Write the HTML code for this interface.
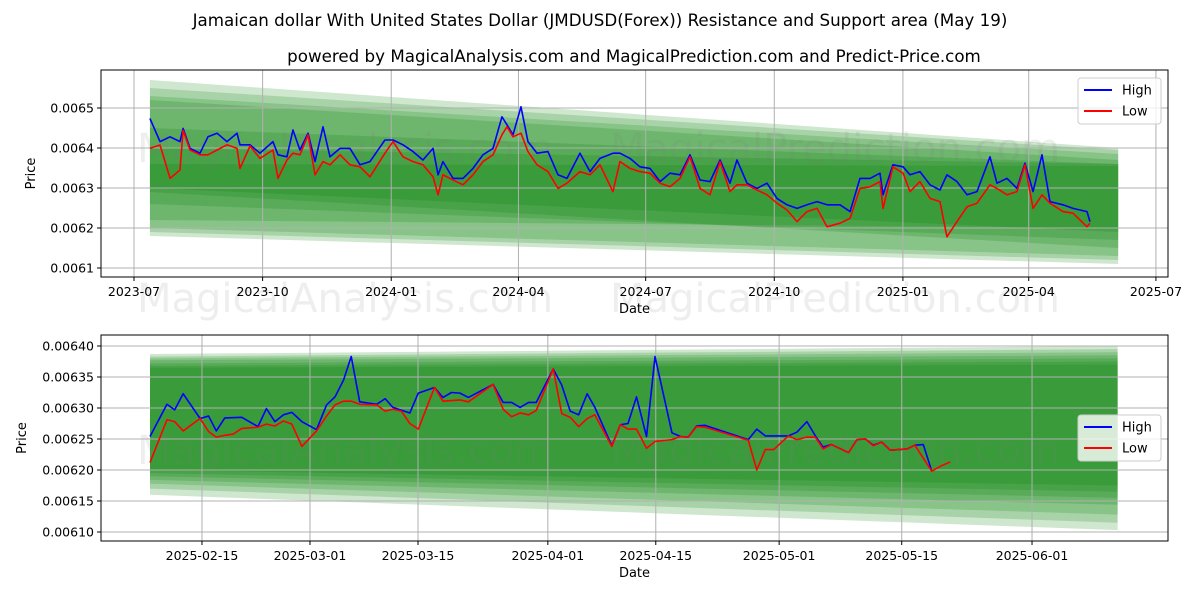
<!DOCTYPE html>
<html><head><meta charset="utf-8"><style>
body{margin:0;background:#fff;font-family:"Liberation Sans","DejaVu Sans",sans-serif}
svg text{font-family:"DejaVu Sans","Liberation Sans",sans-serif}
</style></head><body>
<svg id="c" width="1200" height="600" xmlns="http://www.w3.org/2000/svg">
<text x="600" y="26" font-size="16.7" text-anchor="middle">Jamaican dollar With United States Dollar (JMDUSD(Forex)) Resistance and Support area (May 19)</text>
<text x="634" y="62" font-size="16.7" text-anchor="middle">powered by MagicalAnalysis.com and MagicalPrediction.com and Predict-Price.com</text>
</svg>
<script>
// ---- top chart data (days since 2023-07-01, prices in 1e-5 USD)
const topDays=[11.4,18.6,25.8,32.9,35.1,40.1,47.2,52.9,59.4,66.5,73.7,75.8,83.0,90.1,99.4,103.0,109.4,113.7,118.7,124.5,129.5,135.2,140.2,147.4,154.5,161.7,168.8,179.5,185.3,192.4,199.6,206.7,213.9,217.5,221.0,228.2,235.3,242.5,249.6,256.8,263.2,266.8,271.1,276.8,281.8,288.3,296.1,303.3,309.7,319.0,326.2,333.3,342.6,347.6,354.8,361.9,369.1,376.3,383.4,390.6,397.7,404.9,412.0,419.2,426.3,431.3,438.5,445.6,452.8,459.9,467.1,474.3,481.4,488.6,495.7,505.0,512.2,519.3,526.5,533.6,535.8,542.9,550.1,555.1,562.2,569.4,576.5,581.5,588.7,595.9,603.0,612.3,617.3,624.5,631.6,637.3,643.1,649.5,655.2,664.5,671.7,681.7,683.8];
const topHigh=[647.4,641.6,642.8,641.6,644.9,639.9,638.7,642.8,643.7,641.6,643.7,640.8,640.8,638.7,641.6,638.3,637.8,644.5,639.5,643.7,636.6,645.3,637.8,639.9,639.9,635.8,636.6,642.0,642.0,640.8,639.1,637.0,639.9,633.3,636.6,632.4,632.4,634.9,638.3,639.9,647.8,645.8,643.3,650.3,641.6,638.7,639.1,633.3,632.4,638.7,634.1,637.4,638.7,638.7,637.4,635.3,634.9,631.6,633.7,633.3,638.3,632.0,631.6,637.0,631.2,637.0,631.2,629.9,631.2,627.4,625.8,624.9,625.8,626.6,625.8,625.8,624.1,632.4,632.4,633.7,628.3,635.8,635.3,633.3,634.1,630.8,629.5,633.3,631.6,628.3,629.1,637.8,631.2,632.4,629.9,636.2,629.1,638.3,626.6,625.8,624.9,624.1,621.6];
const topLow=[639.9,640.75,632.4,634.5,644.4,639.5,638.3,638.3,639.5,640.8,639.9,634.9,640.5,637.4,639.5,632.4,637.0,638.7,638.3,643.3,633.3,636.6,635.8,638.3,635.8,635.3,632.8,638.7,641.6,637.8,636.6,635.8,632.8,628.3,633.3,632.0,630.8,633.3,636.6,638.3,643.3,645.3,642.8,643.7,639.1,635.8,634.1,629.9,631.2,634.1,633.3,635.8,629.1,636.6,634.9,634.1,633.7,631.2,630.3,632.4,637.8,629.9,628.3,636.6,629.1,630.8,630.8,629.5,628.3,626.2,624.5,621.6,624.1,624.9,620.3,621.2,622.4,629.9,630.3,631.6,624.9,635.3,633.7,629.1,631.6,627.4,626.6,617.8,621.6,625.3,626.2,630.8,629.9,628.3,629.1,635.8,624.9,628.3,626.2,624.1,623.7,620.3,621.2];
const topTickLabels=["2023-07","2023-10","2024-01","2024-04","2024-07","2024-10","2025-01","2025-04","2025-07"];
const topTickDays=[0,92,184,275,366,458,550,640,731];
const topYTicks=[610,620,630,640,650];
// bands: [startUpper,startLower,endUpper,endLower]
const topBands=[[657,618,640,611],[655,619,639.5,612],[653,620,638.5,613],[652,629,637,615],[645,626,636,617],[640,630,636,619],[636,622,635.5,620]];
// ---- bottom chart data (days since 2025-02-08 approx)
const botHighDays=[0,2.2,3.2,4.3,6.5,7.6,8.6,9.7,11.9,14.0,15.1,16.2,17.3,18.4,19.7,21.6,22.9,24.0,25.1,26.1,27.2,29.4,30.5,31.5,33.7,34.8,36.9,38.0,39.1,40.2,41.3,44.5,45.8,46.9,48.0,49.1,50.1,52.3,53.4,54.5,55.6,56.7,57.7,59.9,61.0,62.0,63.1,64.4,65.5,67.7,68.8,69.8,70.9,72.0,77.6,78.7,79.8,82.8,83.9,85.2,86.3,87.3,88.4,90.6,91.7,92.8,93.8,94.9,96.0,98.2,99.2,100.3,101.4];
const botHigh=[625.4,630.6,629.7,632.3,628.3,628.7,626.3,628.4,628.5,627.0,629.9,627.8,628.9,629.3,627.8,626.5,630.5,631.8,634.5,638.3,631.0,630.6,631.5,630.1,629.2,632.4,633.3,631.7,632.5,632.4,631.7,633.8,630.9,630.9,630.1,630.9,630.9,636.3,633.7,629.5,628.9,632.3,630.1,623.9,627.3,627.5,631.8,625.4,638.3,626.0,625.4,625.3,627.1,627.2,624.9,626.6,625.5,625.5,626.1,627.8,625.5,623.7,624.1,622.8,624.9,625.0,624.0,624.5,623.2,623.4,624.0,624.1,619.8];
const botLowDays=[0,2.2,3.2,4.3,6.5,7.6,8.6,9.7,10.8,11.9,14.0,15.1,16.2,17.3,18.4,19.7,21.6,22.9,24.0,25.1,26.1,27.2,29.4,30.5,31.5,32.6,33.7,34.8,36.9,38.0,40.2,41.3,44.5,45.8,46.9,48.0,49.1,50.1,52.3,53.4,54.5,55.6,56.7,57.7,59.9,61.0,62.0,63.1,64.4,65.5,67.7,68.8,69.8,70.9,72.0,77.6,78.7,79.8,80.9,82.8,83.9,85.2,86.3,87.3,88.4,90.6,91.7,92.8,93.8,94.9,96.0,98.2,99.2,101.4,102.5,103.8];
const botLow=[621.2,628.1,627.8,626.3,628.3,626.2,625.3,625.6,625.8,626.7,626.9,627.4,627.1,627.9,627.4,623.8,626.3,628.7,630.5,631.1,631.1,630.6,630.5,629.5,629.8,629.5,627.5,626.6,633.3,631.1,631.3,631.0,633.8,629.8,628.6,629.2,628.9,629.6,636.3,629.1,628.5,627.0,628.3,628.9,623.8,627.3,626.6,626.6,623.5,624.6,624.9,625.4,625.3,627.0,626.9,624.8,620.0,623.3,623.3,625.5,624.9,625.3,625.3,623.4,624.1,622.8,624.9,625.0,623.9,624.5,623.2,623.4,624.0,619.8,620.6,621.3];
const botTickLabels=["2025-02-15","2025-03-01","2025-03-15","2025-04-01","2025-04-15","2025-05-01","2025-05-15","2025-06-01"];
const botTickDays=[6.74,20.75,34.76,51.6,65.6,81.6,97.5,114.4];
const botYTicks=[610,615,620,625,630,635,640];
const botBands=[[638.7,616,640,610.3],[638.3,617,639.5,611.5],[638,617.8,639,612.8],[637.7,618.4,638.5,614.4],[637.2,619,638,615.5],[636.8,619.5,637.5,616.5],[636.5,620,637,617.5]];

const NS="http://www.w3.org/2000/svg",svg=document.getElementById('c');
function mk(t,a,p){const e=document.createElementNS(NS,t);for(const k in a)e.setAttribute(k,a[k]);(p||svg).appendChild(e);return e;}
function panel(o){
  const {L,R,T,B,x,y}=o;
  const g=mk('g',{});
  
  
  o.bands.forEach(b=>{
    const p=mk('polygon',{points:`${x(o.b0)},${y(b[0])} ${x(o.b1)},${y(b[2])} ${x(o.b1)},${y(b[3])} ${x(o.b0)},${y(b[1])}`,fill:'rgba(0,128,0,0.19)'},g);
    
    
  });
  o.wm.forEach(w=>{const t=mk('text',{x:w[0],y:w[1],'font-size':40,fill:'rgba(120,120,120,0.13)','text-anchor':'middle'},g);t.textContent=w[2];
    
    });
  o.yt.forEach(v=>{const yy=y(v);mk('line',{x1:L,x2:R,y1:yy,y2:yy,stroke:'#b0b0b0','stroke-width':1},g);
    mk('line',{x1:L-4,x2:L,y1:yy,y2:yy,stroke:'#000'},g);
    const t=mk('text',{x:L-7,y:yy+4.5,'font-size':12.5,'text-anchor':'end'},g);t.textContent=(v/1e5).toFixed(o.dec);
    
    });
  o.xd.forEach((d,i)=>{const xx=x(d);mk('line',{x1:xx,x2:xx,y1:T,y2:B,stroke:'#b0b0b0'},g);
    mk('line',{x1:xx,x2:xx,y1:B,y2:B+4,stroke:'#000'},g);
    const t=mk('text',{x:xx,y:B+19,'font-size':12.5,'text-anchor':'middle'},g);t.textContent=o.xl[i];
    
    });
  [[o.hd,o.hv,'#0000ff','high-line'],[o.ld,o.lv,'#ff0000','low-line']].forEach(s=>{
    const pl=mk('polyline',{points:s[0].map((d,i)=>x(d)+','+y(s[1][i])).join(' '),fill:'none',stroke:s[2],'stroke-width':1.6,'stroke-linejoin':'round'},g);
    
    
  });
  mk('rect',{x:L,y:T,width:R-L,height:B-T,fill:'none',stroke:'#000','stroke-width':1},g);
  const xl=mk('text',{x:(L+R)/2,y:B+36,'font-size':13,'text-anchor':'middle'},g);xl.textContent='Date';
  
  
  const cy=(T+B)/2;const yl=mk('text',{x:o.ylx,y:cy,'font-size':13,'text-anchor':'middle',transform:`rotate(-90 ${o.ylx} ${cy})`},g);yl.textContent='Price';
  
  
  const lg=mk('g',{},g);
  
  
  mk('rect',{x:1078,y:o.lgy,width:83,height:46,rx:3,fill:'rgba(255,255,255,0.8)',stroke:'#ccc'},lg);
  [['High','#0000ff'],['Low','#ff0000']].forEach((e,i)=>{const yy=o.lgy+12+i*21;
    mk('line',{x1:1084,x2:1112,y1:yy,y2:yy,stroke:e[1],'stroke-width':2},lg);
    const t=mk('text',{x:1122,y:yy+4.5,'font-size':13},lg);t.textContent=e[0];
    
    });
}
panel({name:'top-panel',L:101,R:1168,T:70,B:277,x:d=>134+d*1.398,y:v=>148-(v-640)*4,
 bands:topBands,b0:11.4,b1:704,yt:topYTicks,dec:4,xd:topTickDays,xl:topTickLabels,
 hd:topDays,hv:topHigh,ld:topDays,lv:topLow,ylx:35,lgy:78,
 wm:[[345,162,'MagicalAnalysis.com'],[835,162,'MagicalPrediction.com'],[345,312,'MagicalAnalysis.com'],[835,312,'MagicalPrediction.com']]});
panel({name:'bottom-panel',L:101,R:1168,T:335,B:541,x:d=>150+d*7.71,y:v=>346-(v-640)*6.2,
 bands:botBands,b0:0,b1:125.5,yt:botYTicks,dec:5,xd:botTickDays,xl:botTickLabels,
 hd:botHighDays,hv:botHigh,ld:botLowDays,lv:botLow,ylx:26,lgy:415,
 wm:[[345,464,'MagicalAnalysis.com'],[835,464,'MagicalPrediction.com']]});
</script>
</body></html>
